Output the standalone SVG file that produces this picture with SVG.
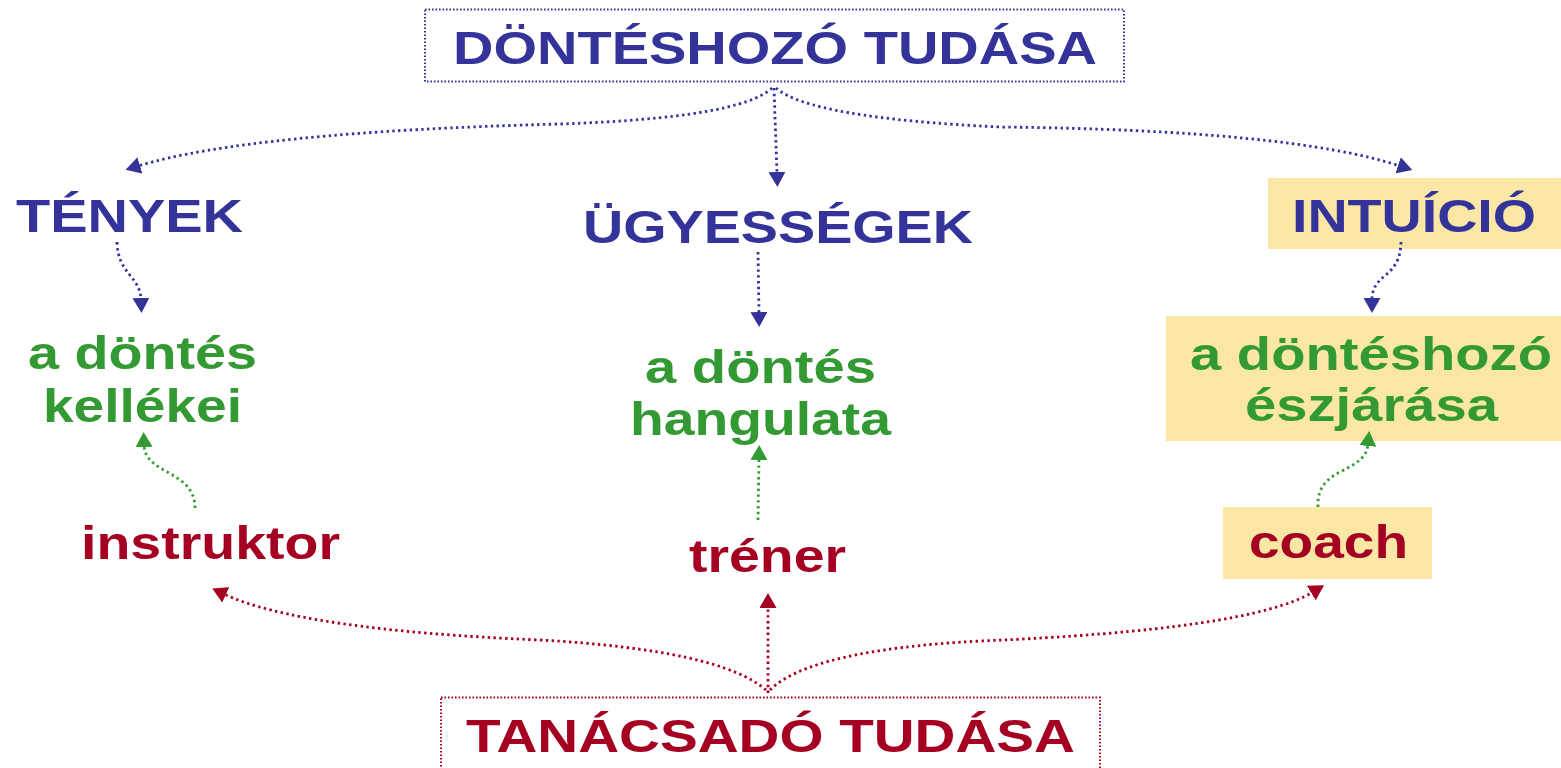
<svg xmlns="http://www.w3.org/2000/svg" width="1561" height="768" viewBox="0 0 1561 768">
<style>
  text { font-family: "Liberation Sans", Arial, sans-serif; font-weight: bold; font-size: 46px; }
  .blue { fill: #333399; }
  .green { fill: #339933; }
  .red { fill: #A50021; }
  .frame { fill: none; stroke-width: 2; stroke-dasharray: 1.6 1.9; }
  .hl { fill: #FAE6A5; }
  .c { fill: none; stroke-width: 2.8; stroke-dasharray: 2.4 3.4; }
  .cb { stroke: #333399; }
  .cg { stroke: #339933; }
  .cr { stroke: #A50021; }
</style>
<defs>
  <marker id="ab" markerUnits="userSpaceOnUse" viewBox="0 0 15 17" refX="2" refY="8.5" markerWidth="15" markerHeight="17" orient="auto"><path d="M0 0 L15 8.5 L0 17 Z" fill="#333399"/></marker>
  <marker id="ag" markerUnits="userSpaceOnUse" viewBox="0 0 15 17" refX="2" refY="8.5" markerWidth="15" markerHeight="17" orient="auto"><path d="M0 0 L15 8.5 L0 17 Z" fill="#339933"/></marker>
  <marker id="ar" markerUnits="userSpaceOnUse" viewBox="0 0 15 17" refX="2" refY="8.5" markerWidth="15" markerHeight="17" orient="auto"><path d="M0 0 L15 8.5 L0 17 Z" fill="#A50021"/></marker>
</defs>

<g id="n-dontes-tudasa">
  <rect class="frame" x="425" y="9.5" width="699" height="72" stroke="#333399"/>
  <text class="blue" x="453" y="64" textLength="644" lengthAdjust="spacingAndGlyphs">DÖNTÉSHOZÓ TUDÁSA</text>
</g>
<g id="n-tenyek">
  <text class="blue" x="16" y="232" textLength="227" lengthAdjust="spacingAndGlyphs">TÉNYEK</text>
</g>
<g id="n-ugyessegek">
  <text class="blue" x="583" y="243" textLength="390" lengthAdjust="spacingAndGlyphs">ÜGYESSÉGEK</text>
</g>
<g id="n-intuicio">
  <rect class="hl" x="1268" y="178" width="293" height="71"/>
  <text class="blue" x="1292" y="232" textLength="244" lengthAdjust="spacingAndGlyphs">INTUÍCIÓ</text>
</g>
<g id="n-kellekei">
  <text class="green" x="28" y="369" textLength="229" lengthAdjust="spacingAndGlyphs">a döntés</text>
  <text class="green" x="43" y="422" textLength="199" lengthAdjust="spacingAndGlyphs">kellékei</text>
</g>
<g id="n-hangulata">
  <text class="green" x="645" y="383" textLength="231" lengthAdjust="spacingAndGlyphs">a döntés</text>
  <text class="green" x="630" y="435" textLength="261" lengthAdjust="spacingAndGlyphs">hangulata</text>
</g>
<g id="n-eszjarasa">
  <rect class="hl" x="1166" y="316" width="395" height="125"/>
  <text class="green" x="1190" y="370" textLength="362" lengthAdjust="spacingAndGlyphs">a döntéshozó</text>
  <text class="green" x="1245" y="421" textLength="253" lengthAdjust="spacingAndGlyphs">észjárása</text>
</g>
<g id="n-instruktor">
  <text class="red" x="81" y="559" textLength="259" lengthAdjust="spacingAndGlyphs">instruktor</text>
</g>
<g id="n-trener">
  <text class="red" x="689" y="572" textLength="157" lengthAdjust="spacingAndGlyphs">tréner</text>
</g>
<g id="n-coach">
  <rect class="hl" x="1223" y="507" width="209" height="72"/>
  <text class="red" x="1249" y="558" textLength="159" lengthAdjust="spacingAndGlyphs">coach</text>
</g>
<g id="n-tanacsado-tudasa">
  <rect class="frame" x="441" y="697.5" width="659" height="100" stroke="#A50021"/>
  <text class="red" x="466" y="752" textLength="609" lengthAdjust="spacingAndGlyphs">TANÁCSADÓ TUDÁSA</text>
</g>

<g id="connectors">
  <path class="c cb" d="M772 88 Q740 118 560 124 Q250 132 138 166" marker-end="url(#ab)"/>
  <path class="c cb" d="M774 88 L777 174" marker-end="url(#ab)"/>
  <path class="c cb" d="M776 88 Q810 118 1000 127 Q1290 130 1400 166" marker-end="url(#ab)"/>
  <path class="c cb" d="M117 242 C118 275 140 275 141 300" marker-end="url(#ab)"/>
  <path class="c cb" d="M758 252 L759 314" marker-end="url(#ab)"/>
  <path class="c cb" d="M1401 242 C1400 280 1372 272 1372 300" marker-end="url(#ab)"/>
  <path class="c cg" d="M195 508 C195 470 145 475 144 445" marker-end="url(#ag)"/>
  <path class="c cg" d="M758 520 L759 458" marker-end="url(#ag)"/>
  <path class="c cg" d="M1318 507 C1316 465 1365 475 1368 444" marker-end="url(#ag)"/>
  <path class="c cr" d="M766 690 Q720 650 540 640 Q300 630 224 594" marker-end="url(#ar)"/>
  <path class="c cr" d="M768 693 L768 606" marker-end="url(#ar)"/>
  <path class="c cr" d="M770 690 Q810 650 980 641 Q1250 630 1313 592" marker-end="url(#ar)"/>
</g>
</svg>
